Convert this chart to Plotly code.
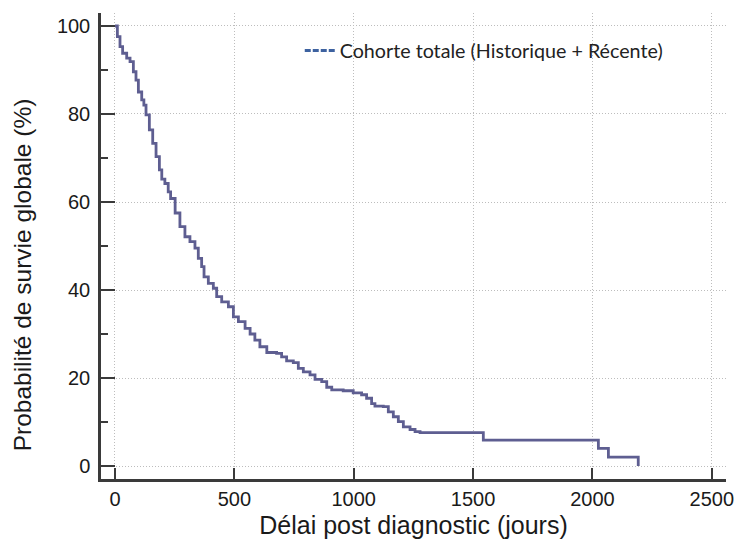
import plotly.graph_objects as go

# Kaplan-Meier estimate
jours = [0, 10, 21, 32, 49, 63, 77, 88, 98, 112, 121, 130, 144, 158, 172, 186,
         196, 209, 223, 233, 252, 272, 293, 314, 335, 349, 363, 373, 391, 412,
         426, 447, 475, 496, 517, 545, 566, 586, 607, 636, 677, 698, 719, 747,
         768, 789, 817, 838, 866, 887, 908, 956, 998, 1033, 1054, 1075, 1089,
         1124, 1145, 1166, 1187, 1208, 1236, 1257, 1278, 1543, 2025, 2067, 2192]
survie = [100, 97.6, 95.3, 93.8, 92.7, 91.9, 89.6, 87.7, 85.0, 83.2, 82.0, 79.8,
          76.4, 73.3, 70.3, 67.3, 65.2, 64.2, 62.3, 60.8, 57.5, 54.4, 52.1, 51.0,
          49.5, 47.2, 45.3, 43.0, 41.5, 40.4, 38.5, 37.3, 36.2, 33.9, 32.8, 31.3,
          30.0, 28.6, 27.1, 25.8, 25.6, 24.8, 23.9, 23.5, 22.2, 21.4, 20.7, 19.7,
          19.2, 17.9, 17.3, 17.1, 16.6, 16.2, 15.4, 14.2, 13.6, 13.5, 12.3, 11.2,
          10.1, 8.9, 8.3, 7.8, 7.6, 5.9, 4.0, 2.0, 0.0]

x_ticks = [0, 500, 1000, 1500, 2000, 2500]
y_ticks = [0, 20, 40, 60, 80, 100]
serie_nom = "Cohorte totale (Historique + Récente)"
x_titre = "Délai post diagnostic (jours)"
y_titre = "Probabilité de survie globale (%)"

axis_col = "#3a3a3a"
grid_col = "#bdbdbd"
grid_dash = "1px,2px"
font_fam = "Arial, Liberation Sans, sans-serif"

fig = go.Figure()
fig.add_trace(go.Scatter(
    x=jours, y=survie, mode="lines", line_shape="hv",
    line=dict(color="#5e5e91", width=2.8), showlegend=False,
))
# legend entry
fig.add_trace(go.Scatter(
    x=[None], y=[None], mode="lines", name=serie_nom,
    line=dict(color="#3d62a0", width=3, dash="6px,2px"),
))

fig.update_layout(
    width=739, height=542,
    margin=dict(l=101, r=13, t=13, b=63),
    paper_bgcolor="white", plot_bgcolor="white",
    font=dict(family=font_fam, size=20, color="#1a1a1a"),
    legend=dict(
        x=0.318, y=0.919, xanchor="left", yanchor="middle",
        bgcolor="rgba(0,0,0,0)",
        font=dict(family="Lato, sans-serif", size=19.7, color="#222222"),
    ),
    xaxis=dict(
        range=[-58.6, 2559.6], tickvals=x_ticks, automargin=False,
        showline=True, linecolor=axis_col, linewidth=2.5,
        ticks="inside", ticklen=11, tickwidth=2, tickcolor=axis_col,
        showgrid=True, gridcolor=grid_col, griddash=grid_dash, gridwidth=1,
        zeroline=False,
        title=dict(text=x_titre, font=dict(size=25), standoff=8),
    ),
    yaxis=dict(
        range=[-2.95, 102.95], tickvals=y_ticks, automargin=False,
        showline=True, linecolor=axis_col, linewidth=2.5,
        ticks="inside", ticklen=14, tickwidth=2, tickcolor=axis_col,
        ticklabelstandoff=4,
        minor=dict(ticks="inside", ticklen=7, tickwidth=1.5, tickcolor=axis_col,
                   tickvals=[10, 30, 50, 70, 90], showgrid=False),
        showgrid=True, gridcolor=grid_col, griddash=grid_dash, gridwidth=1,
        zeroline=False,
    ),
    annotations=[dict(
        text=y_titre, textangle=-90, showarrow=False,
        xref="paper", yref="paper", x=-0.1264, y=0.437,
        xanchor="center", yanchor="middle",
        font=dict(family=font_fam, size=24.5, color="#1a1a1a"),
    )],
)

fig.write_html(
    "out.html",
    config={"displayModeBar": False},
    post_script="document.body.style.margin='0';document.body.style.overflow='hidden';",
)
